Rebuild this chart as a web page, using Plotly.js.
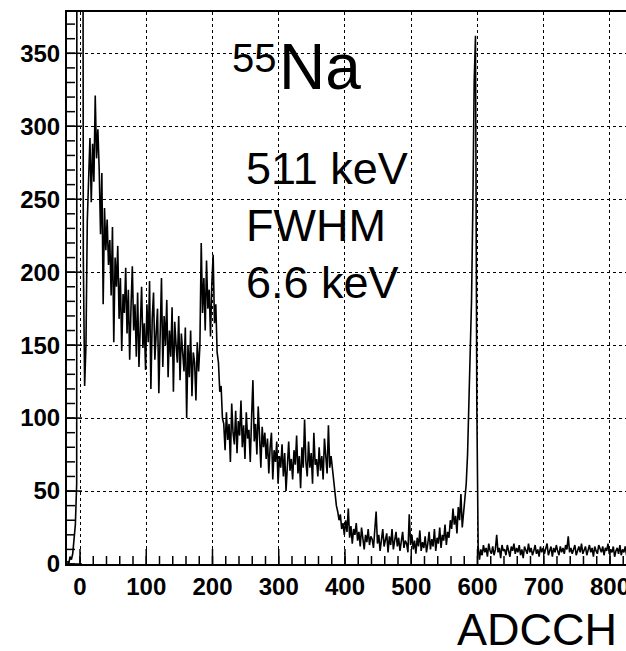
<!DOCTYPE html>
<html>
<head>
<meta charset="utf-8">
<script src="https://cdn.plot.ly/plotly-3.0.1.min.js"></script>
<style>
html, body { margin: 0; padding: 0; overflow: hidden; background: #fff; }
#chart { width: 660px; height: 651px; }
</style>
</head>
<body>
<div id="chart"></div>
<script>
// Histogram binning (ADC channels)
const binStart = -20;
const binWidth = 2;

// Counts per 2-channel bin (channel -20 upward)
const counts = [
  2, 0, 5, 3, 7, 15, 27, 55, 3000, 3000,
  3000, 3000, 210, 122, 150, 235, 262, 292, 248, 288,
  262, 321, 278, 298, 270, 226, 268, 178, 244, 215,
  236, 205, 222, 184, 231, 152, 210, 190, 218, 168,
  196, 146, 185, 172, 203, 158, 188, 140, 176, 204,
  160, 178, 142, 186, 135, 170, 190, 148, 165, 133,
  178, 152, 194, 120, 168, 186, 140, 158, 175, 117,
  162, 196, 135, 170, 150, 181, 128, 160, 142, 176,
  118, 166, 150, 138, 170, 126, 158, 145, 132, 162,
  100, 150, 128, 160, 115, 145, 138, 112, 152, 132,
  150, 220, 172, 196, 160, 208, 175, 188, 156, 192,
  212, 165, 178, 145, 138, 118, 122, 100, 96, 78,
  104, 85, 96, 70, 110, 90, 82, 105, 76, 98,
  88, 112, 80, 95, 72, 104, 86, 92, 70, 100,
  126, 84, 96, 75, 108, 88, 66, 94, 80, 90,
  72, 86, 62, 80, 90, 58, 78, 70, 84, 55,
  74, 66, 82, 60, 76, 50, 70, 84, 64, 72,
  58, 78, 68, 88, 62, 74, 52, 80, 66, 99,
  70, 60, 84, 66, 76, 55, 90, 68, 72, 60,
  80, 64, 74, 58, 86, 70, 62, 95, 66, 74,
  65, 58, 48, 40, 36, 30, 34, 24, 28, 20,
  30, 22, 38, 18, 26, 14, 24, 20, 28, 16,
  22, 12, 25, 18, 10, 20, 15, 24, 13, 19,
  17, 11, 22, 36, 14, 20, 9, 18, 24, 12,
  16, 21, 8, 19, 13, 24, 10, 17, 22, 12,
  18, 9, 15, 22, 11, 16, 14, 8, 34, 13,
  20, 10, 16, 7, 18, 12, 23, 9, 15, 11,
  19, 8, 14, 22, 10, 17, 12, 24, 9, 18,
  14, 25, 11, 20, 16, 27, 13, 22, 18, 30,
  24, 38, 27, 33, 21, 39, 30, 48, 25, 34,
  42, 55, 75, 105, 140, 180, 245, 330, 362, 110,
  12, 3, 10, 6, 13, 8, 11, 5, 14, 9,
  7, 12, 6, 10, 20, 8, 11, 4, 13, 9,
  10, 6, 13, 8, 5, 12, 9, 14, 7, 11,
  8, 13, 6, 10, 4, 12, 9, 7, 14, 8,
  11, 6, 9, 13, 7, 10, 5, 12, 8, 11,
  7, 10, 14, 6, 9, 12, 5, 11, 8, 13,
  9, 6, 12, 8, 11, 7, 13, 10, 19, 8,
  11, 7, 10, 13, 6, 9, 12, 8, 14, 7,
  10, 12, 6, 9, 13, 8, 11, 5, 12, 9,
  7, 13, 10, 8, 12, 6, 11, 9, 14, 7,
  10, 8, 12, 5, 9, 11, 7, 13, 6, 10,
  8, 12, 6, 10, 9, 7, 11, 8, 10, 6,
  9, 11, 7, 10, 8, 12, 6, 9, 10, 8,
  7, 10, 9, 11, 6, 8, 12, 9, 7, 10
];

// Axis / text labels
const xTitle = "ADCCH";
const isotopeMass = "55";
const isotopeName = "Na";
const infoLines = ["511 keV", "FWHM", "6.6 keV"];

// Tick spacing (axis units)
const xMajorStep = 100, xMinorStep = 20;
const yMajorStep = 50, yMinorStep = 10;

const centers = counts.map((_, i) => binStart + binWidth * (i + 0.5));

const tickFont = { family: "Liberation Sans, Arial, sans-serif", size: 24, weight: "bold", color: "#000" };
const textFont = (s) => ({ family: "Liberation Sans, Arial, sans-serif", size: s, color: "#000" });

// plot area geometry (pixels)
const W = 660, H = 651;
const M = { l: 67, r: 0, t: 12, b: 87 };
const PL = M.l, PW = W - M.l - M.r, PB = H - M.b, PH = H - M.t - M.b;
const px = (x) => (x - PL) / PW;
const py = (y) => (PB - y) / PH;

const xRange = [-19.62, 875.5];
const yRange = [0, 378.3];
const xPxPerUnit = PW / (xRange[1] - xRange[0]);
const yPxPerUnit = PH / (yRange[1] - yRange[0]);

// inside tick marks (ROOT style), built from tick values through the axes
const tickX = [], tickY = [];
function addXTicks(step, lenPx) {
  for (let t = Math.ceil(xRange[0] / step) * step; t <= xRange[1]; t += step) {
    tickX.push(t, t, null);
    tickY.push(yRange[0], yRange[0] + lenPx / yPxPerUnit, null);
  }
}
function addYTicks(step, lenPx) {
  for (let t = Math.ceil(yRange[0] / step) * step; t <= yRange[1]; t += step) {
    tickX.push(xRange[0], xRange[0] + lenPx / xPxPerUnit, null);
    tickY.push(t, t, null);
  }
}
addXTicks(xMinorStep, 8);
addXTicks(xMajorStep, 15);
addYTicks(yMinorStep, 8);
addYTicks(yMajorStep, 15);

const tickTrace = {
  type: "scatter",
  mode: "lines",
  x: tickX,
  y: tickY,
  connectgaps: false,
  line: { color: "#000", width: 1.5 },
  hoverinfo: "skip"
};

const histTrace = {
  type: "scatter",
  mode: "lines",
  x: centers,
  y: counts,
  line: { color: "#000", width: 1.6 },
  hoverinfo: "skip"
};

const layout = {
  width: W,
  height: H,
  margin: M,
  paper_bgcolor: "#fff",
  plot_bgcolor: "#fff",
  showlegend: false,
  xaxis: {
    range: xRange,
    dtick: xMajorStep,
    ticks: "",
    showgrid: true, gridcolor: "#000", gridwidth: 1, griddash: "dot",
    zeroline: false,
    showline: true, linecolor: "#000", linewidth: 2, mirror: true,
    tickfont: tickFont
  },
  yaxis: {
    range: yRange,
    dtick: yMajorStep,
    ticks: "",
    showgrid: true, gridcolor: "#000", gridwidth: 1, griddash: "dot",
    zeroline: false,
    showline: true, linecolor: "#000", linewidth: 2, mirror: true,
    tickfont: tickFont
  },
  annotations: [
    { text: xTitle, xref: "paper", yref: "paper", x: px(619), y: py(629.8), xanchor: "right", yanchor: "middle", showarrow: false, font: textFont(45) },
    { text: isotopeMass, xref: "paper", yref: "paper", x: px(230), y: py(57.7), xanchor: "left", yanchor: "middle", showarrow: false, font: textFont(40) },
    { text: isotopeName, xref: "paper", yref: "paper", x: px(277), y: py(66.8), xanchor: "left", yanchor: "middle", showarrow: false, font: textFont(64) },
    { text: infoLines[0], xref: "paper", yref: "paper", x: px(244), y: py(168.4), xanchor: "left", yanchor: "middle", showarrow: false, font: textFont(45) },
    { text: infoLines[1], xref: "paper", yref: "paper", x: px(244), y: py(225.1), xanchor: "left", yanchor: "middle", showarrow: false, font: textFont(45) },
    { text: infoLines[2], xref: "paper", yref: "paper", x: px(244), y: py(282.4), xanchor: "left", yanchor: "middle", showarrow: false, font: textFont(45) }
  ]
};

Plotly.newPlot("chart", [tickTrace, histTrace], layout, { staticPlot: true, displayModeBar: false });
</script>
</body>
</html>
